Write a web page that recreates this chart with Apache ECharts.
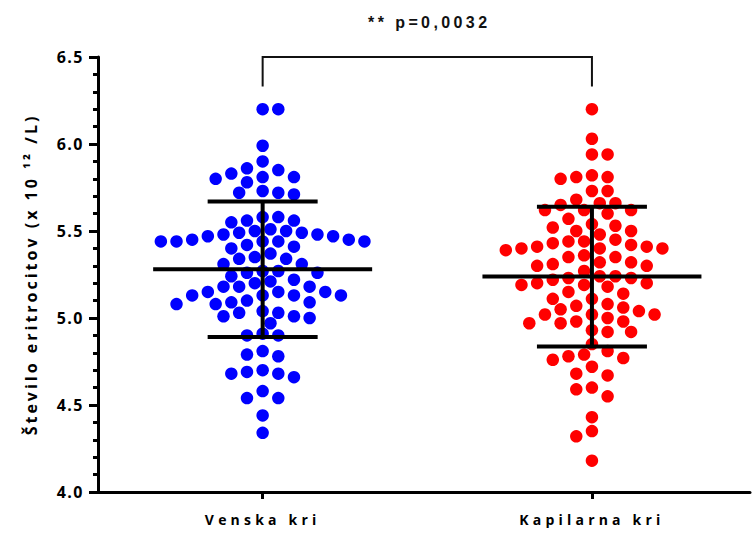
<!DOCTYPE html>
<html>
<head>
<meta charset="utf-8">
<script src="https://cdn.jsdelivr.net/npm/echarts@6/dist/echarts.min.js"></script>
<style>
  html, body { margin: 0; padding: 0; background: #fff; }
  #chart { width: 753px; height: 533px; }
</style>
</head>
<body>
<div id="chart"></div>
<script>
// Groups and individual erythrocyte counts (x 10^12/L)
const categories = ['Venska kri', 'Kapilarna kri'];

const venska = [
  6.20, 6.20, 5.99, 5.90, 5.86, 5.85, 5.83, 5.81, 5.81, 5.80, 5.78, 5.73, 5.72, 5.72, 5.71,
  5.58, 5.58, 5.56, 5.56, 5.55, 5.51, 5.50, 5.50, 5.49, 5.49, 5.48, 5.48, 5.47, 5.47, 5.45,
  5.45, 5.44, 5.44, 5.44, 5.44, 5.44, 5.42, 5.41, 5.40, 5.37, 5.35, 5.34, 5.34, 5.31, 5.31,
  5.27, 5.27, 5.26, 5.26, 5.24, 5.22, 5.21, 5.20, 5.18, 5.18, 5.18, 5.15, 5.15, 5.15, 5.13,
  5.13, 5.13, 5.13, 5.10, 5.09, 5.09, 5.08, 5.08, 5.04, 5.03, 5.03, 5.01, 5.01, 5.00, 4.97,
  4.91, 4.90, 4.90, 4.81, 4.79, 4.78, 4.70, 4.69, 4.68, 4.68, 4.66, 4.58, 4.54, 4.54, 4.44,
  4.34
];

const kapilarna = [
  6.20, 6.03, 5.94, 5.94, 5.82, 5.81, 5.81, 5.80, 5.73, 5.73, 5.68, 5.66, 5.66, 5.65,
  5.62, 5.62, 5.62, 5.60, 5.57, 5.54, 5.53, 5.52, 5.50, 5.50, 5.48, 5.45, 5.44, 5.44, 5.43,
  5.42, 5.41, 5.41, 5.40, 5.40, 5.40, 5.39, 5.36, 5.35, 5.35, 5.32, 5.32, 5.31, 5.30, 5.30,
  5.27, 5.24, 5.24, 5.23, 5.23, 5.22, 5.20, 5.20, 5.19, 5.19, 5.18, 5.15, 5.14, 5.11, 5.11,
  5.08, 5.07, 5.06, 5.05, 5.04, 5.02, 5.02, 5.02, 5.00, 4.98, 4.98, 4.97, 4.97,
  4.93, 4.92, 4.92, 4.85, 4.81, 4.79, 4.78, 4.77, 4.76, 4.72, 4.68, 4.67, 4.60, 4.59, 4.55,
  4.43, 4.35, 4.32, 4.18
];

// Mean and standard deviation of each group
const groupMeans = [5.28, 5.238];
const groupSD = [0.389, 0.402];

// Significance bracket between the two groups
const pLabel = '** p=0,0032';
const bracketTop = 6.5;
const bracketFoot = 6.33;

const yTicks = [4.0, 4.5, 5.0, 5.5, 6.0, 6.5];
const yName = 'Število eritrocitov (x 10 ¹² /L)';

const chart = echarts.init(document.getElementById('chart'), null, { renderer: 'svg' });

const baseFont = '"Open Sans", "DejaVu Sans", sans-serif';

chart.setOption({
  animation: false,
  backgroundColor: '#fff',
  grid: { left: 98, right: 3, top: 57, bottom: 41, containLabel: false },
  xAxis: {
    type: 'value',
    min: 0.5,
    max: 2.48,
    splitLine: { show: false },
    axisLine: { show: true, lineStyle: { color: '#000', width: 3 } },
    axisTick: { show: true, customValues: [1, 2], length: 7, lineStyle: { color: '#000', width: 3 } },
    axisLabel: {
      customValues: [1, 2],
      margin: 20,
      formatter: v => categories[Math.round(v) - 1] || '',
      color: '#000',
      fontFamily: baseFont,
      fontWeight: 'bold',
      fontSize: 14
    }
  },
  yAxis: {
    type: 'value',
    min: yTicks[0],
    max: yTicks[yTicks.length - 1],
    interval: 0.5,
    name: yName,
    nameLocation: 'middle',
    nameRotate: 90,
    nameGap: 59,
    nameTextStyle: { color: '#000', fontFamily: baseFont, fontWeight: 'bold', fontSize: 16 },
    splitLine: { show: false },
    axisLine: { show: true, lineStyle: { color: '#000', width: 3 } },
    axisTick: { show: true, length: 9, lineStyle: { color: '#000', width: 3 } },
    minorTick: { show: true, splitNumber: 5, length: 5, lineStyle: { color: '#000', width: 3 } },
    axisLabel: {
      margin: 14,
      formatter: v => v.toFixed(1),
      color: '#000',
      fontFamily: baseFont,
      fontWeight: 'bold',
      fontSize: 16
    }
  },
  series: []
});

// Beeswarm placement: each dot takes the nearest free horizontal slot
function swarm(values, center) {
  const step = 7.83;
  const minDist = 13;
  const c0 = chart.convertToPixel({ gridIndex: 0 }, [center, 5])[0];
  const pts = values
    .map(v => ({ v, py: chart.convertToPixel({ gridIndex: 0 }, [center, v])[1] }))
    .sort((a, b) => b.v - a.v);
  const placed = [];
  let side = 1;
  pts.forEach(p => {
    for (let r = 0; r < 60; r++) {
      const cands = r === 0 ? [0] : [side * r, -side * r];
      const k = cands.find(c => placed.every(q =>
        (c * step - q.dx) ** 2 + (p.py - q.py) ** 2 >= minDist * minDist));
      if (k !== undefined) {
        p.dx = k * step;
        if (k !== 0) side = -side;
        break;
      }
    }
    placed.push(p);
  });
  return pts.map(p => [chart.convertFromPixel({ gridIndex: 0 }, [c0 + p.dx, p.py])[0], p.v]);
}

const lineStyle = { stroke: '#000', lineWidth: 4 };

chart.setOption({
  series: [
    {
      name: categories[0],
      type: 'scatter',
      symbol: 'circle',
      symbolSize: 12.5,
      itemStyle: { color: '#0000ff', opacity: 1 },
      data: swarm(venska, 1),
      z: 2
    },
    {
      name: categories[1],
      type: 'scatter',
      symbol: 'circle',
      symbolSize: 12.5,
      itemStyle: { color: '#ff0000', opacity: 1 },
      data: swarm(kapilarna, 2),
      z: 2
    },
    {
      // mean line with ±SD whiskers
      type: 'custom',
      z: 5,
      silent: true,
      data: categories.map((c, i) => [i + 1, groupMeans[i], groupSD[i]]),
      renderItem(params, api) {
        const x = api.value(0), m = api.value(1), s = api.value(2);
        const pm = api.coord([x, m]);
        const ph = api.coord([x, m + s]);
        const pl = api.coord([x, m - s]);
        return {
          type: 'group',
          children: [
            { type: 'line', shape: { x1: pm[0] - 109.5, y1: pm[1], x2: pm[0] + 109.5, y2: pm[1] }, style: lineStyle },
            { type: 'line', shape: { x1: ph[0] - 55, y1: ph[1], x2: ph[0] + 55, y2: ph[1] }, style: lineStyle },
            { type: 'line', shape: { x1: pl[0] - 55, y1: pl[1], x2: pl[0] + 55, y2: pl[1] }, style: lineStyle },
            { type: 'line', shape: { x1: pm[0], y1: ph[1], x2: pm[0], y2: pl[1] }, style: lineStyle }
          ]
        };
      }
    },
    {
      // significance bracket and p-value
      type: 'custom',
      z: 5,
      silent: true,
      clip: false,
      data: [[1, 2, bracketTop, bracketFoot]],
      renderItem(params, api) {
        const a = api.coord([api.value(0), api.value(3)]);
        const b = api.coord([api.value(0), api.value(2)]);
        const c = api.coord([api.value(1), api.value(2)]);
        const d = api.coord([api.value(1), api.value(3)]);
        return {
          type: 'group',
          children: [
            {
              type: 'polyline',
              shape: { points: [a, b, c, d] },
              style: { stroke: '#111', lineWidth: 2, fill: null }
            },
            {
              type: 'text',
              style: {
                text: pLabel,
                x: (b[0] + c[0]) / 2 + 2,
                y: b[1] - 35,
                align: 'center',
                verticalAlign: 'middle',
                fill: '#111',
                font: 'bold 16px "Liberation Sans", Arial, sans-serif'
              }
            }
          ]
        };
      }
    }
  ]
});

// Letter spacing for the widely tracked labels
const tracking = { 'Venska kri': 4.2, 'Kapilarna kri': 4.2 };
tracking[pLabel] = 3.4;
tracking[yName] = 3;
yTicks.forEach(t => { tracking[t.toFixed(1)] = 1.5; });

function applyTracking() {
  document.querySelectorAll('#chart svg text').forEach(t => {
    const s = tracking[t.textContent.trim()];
    if (s != null) t.style.letterSpacing = s + 'px';
  });
}
chart.on('finished', applyTracking);
applyTracking();
setTimeout(applyTracking, 50);
</script>
</body>
</html>
